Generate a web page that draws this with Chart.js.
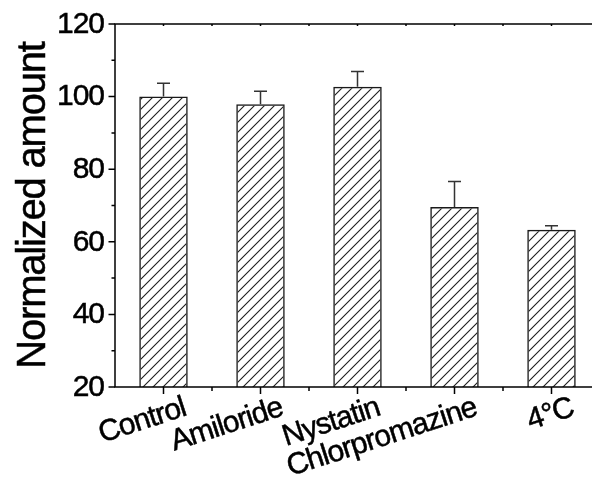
<!DOCTYPE html>
<html>
<head>
<meta charset="utf-8">
<script src="https://cdn.jsdelivr.net/npm/chart.js@4"></script>
<style>
  html, body { margin: 0; padding: 0; background: #fff; overflow: hidden; width: 592px; height: 488px; }
  #wrap { width: 592px; height: 488px; overflow: hidden; position: relative; }
  canvas { display: block; }
</style>
</head>
<body>
<div id="wrap"><canvas id="c" width="640" height="488"></canvas></div>
<script>
// Uptake under each inhibitor, normalized to the control (%)
const categories = ['Control', 'Amiloride', 'Nystatin', 'Chlorpromazine', '4\u00B0C'];
const amounts = [100.0, 97.9, 102.7, 69.6, 63.3];
const errors = [3.7, 3.6, 4.2, 7.0, 1.1];
const yTicks = [20, 40, 60, 80, 100, 120];
const yMinorTicks = [30, 50, 70, 90, 110];
const yTitle = 'Normalized amount';

const FONT = "'Liberation Sans', Arial, Helvetica, sans-serif";

// Diagonal "/" hatch fill
function makeHatch() {
  const s = 10;
  const p = document.createElement('canvas');
  p.width = s; p.height = s;
  const g = p.getContext('2d');
  g.strokeStyle = '#1e1e1e';
  g.lineWidth = 1.1;
  g.beginPath();
  g.moveTo(-1, s + 1); g.lineTo(s + 1, -1);
  g.moveTo(-1, 1); g.lineTo(1, -1);
  g.moveTo(s - 1, s + 1); g.lineTo(s + 1, s - 1);
  g.stroke();
  return document.getElementById('c').getContext('2d').createPattern(p, 'repeat');
}

// Slightly heavier text
function heavyText(ctx, str, x, y) {
  ctx.fillText(str, x, y);
  ctx.strokeText(str, x, y);
}

// Upward error bars with caps
const errorBars = {
  id: 'errorBars',
  afterDatasetsDraw(chart) {
    const ctx = chart.ctx;
    const x = chart.scales.x, y = chart.scales.y;
    ctx.save();
    ctx.strokeStyle = '#333';
    ctx.lineWidth = 1.5;
    amounts.forEach((v, i) => {
      const px = x.getPixelForValue(i);
      const top = y.getPixelForValue(v);
      const hi = y.getPixelForValue(v + errors[i]);
      ctx.beginPath();
      ctx.moveTo(px, top); ctx.lineTo(px, hi);
      ctx.moveTo(px - 6.5, hi); ctx.lineTo(px + 6.5, hi);
      ctx.stroke();
    });
    ctx.restore();
  }
};

// Framed axes, ticks and labels
const frame = {
  id: 'frame',
  afterDraw(chart) {
    const ctx = chart.ctx;
    const a = chart.chartArea;
    const x = chart.scales.x, y = chart.scales.y;
    ctx.save();
    ctx.strokeStyle = '#000';
    ctx.lineWidth = 1.5;
    ctx.beginPath();
    ctx.moveTo(a.left, a.top); ctx.lineTo(a.right, a.top);
    ctx.lineTo(a.right, a.bottom); ctx.lineTo(a.left, a.bottom);
    ctx.closePath();
    ctx.stroke();

    // y ticks
    ctx.beginPath();
    yTicks.forEach(t => { const py = y.getPixelForValue(t); ctx.moveTo(a.left - 6.5, py); ctx.lineTo(a.left, py); });
    yMinorTicks.forEach(t => { const py = y.getPixelForValue(t); ctx.moveTo(a.left - 3.5, py); ctx.lineTo(a.left, py); });
    // x ticks: major at categories, minor between
    categories.forEach((c, i) => {
      const px = x.getPixelForValue(i);
      ctx.moveTo(px, a.bottom); ctx.lineTo(px, a.bottom + 7);
      const mx = px + (x.getPixelForValue(1) - x.getPixelForValue(0)) / 2;
      ctx.moveTo(mx, a.bottom); ctx.lineTo(mx, a.bottom + 4);
      ctx.moveTo(px, a.top); ctx.lineTo(px, a.top + 2);
      ctx.moveTo(mx, a.top); ctx.lineTo(mx, a.top + 2);
    });
    ctx.stroke();

    ctx.fillStyle = '#000';
    ctx.strokeStyle = '#000';
    ctx.lineWidth = 0.5;

    // y tick labels
    ctx.font = '30px ' + FONT;
    ctx.letterSpacing = '-1px';
    ctx.textAlign = 'right';
    ctx.textBaseline = 'middle';
    yTicks.forEach(t => heavyText(ctx, String(t), a.left - 11, y.getPixelForValue(t) + 0.5));

    // x category labels, rotated
    const ang = -18 * Math.PI / 180;
    ctx.font = '30px ' + FONT;
    ctx.letterSpacing = '-1px';
    ctx.textAlign = 'right';
    ctx.textBaseline = 'alphabetic';
    categories.forEach((c, i) => {
      const px = x.getPixelForValue(i);
      ctx.save();
      ctx.translate(px + 24, a.bottom + 28);
      ctx.rotate(ang);
      heavyText(ctx, c, 0, 0);
      ctx.restore();
    });

    // y axis title
    ctx.save();
    ctx.font = '40px ' + FONT;
    ctx.letterSpacing = '-1.2px';
    ctx.textAlign = 'center';
    ctx.textBaseline = 'alphabetic';
    ctx.translate(45, (a.top + a.bottom) / 2);
    ctx.rotate(-Math.PI / 2);
    heavyText(ctx, yTitle, 0, 0);
    ctx.restore();
    ctx.restore();
  }
};

new Chart(document.getElementById('c'), {
  type: 'bar',
  data: {
    labels: categories,
    datasets: [{
      data: amounts,
      backgroundColor: makeHatch(),
      borderColor: '#1a1a1a',
      borderWidth: 1.5,
      borderSkipped: 'start',
      categoryPercentage: 1.0,
      barPercentage: 0.5
    }]
  },
  options: {
    responsive: false,
    animation: false,
    devicePixelRatio: 1,
    layout: { padding: { top: 24, right: 40, bottom: 0, left: 0 } },
    plugins: { legend: { display: false }, tooltip: { enabled: false } },
    scales: {
      x: {
        grid: { display: false }, border: { display: false },
        ticks: { display: false },
        afterFit(s) { s.height = 101; }
      },
      y: {
        min: 20, max: 120,
        grid: { display: false }, border: { display: false },
        ticks: { display: false, stepSize: 20 },
        afterFit(s) { s.width = 115; }
      }
    }
  },
  plugins: [errorBars, frame]
});
</script>
</body>
</html>
